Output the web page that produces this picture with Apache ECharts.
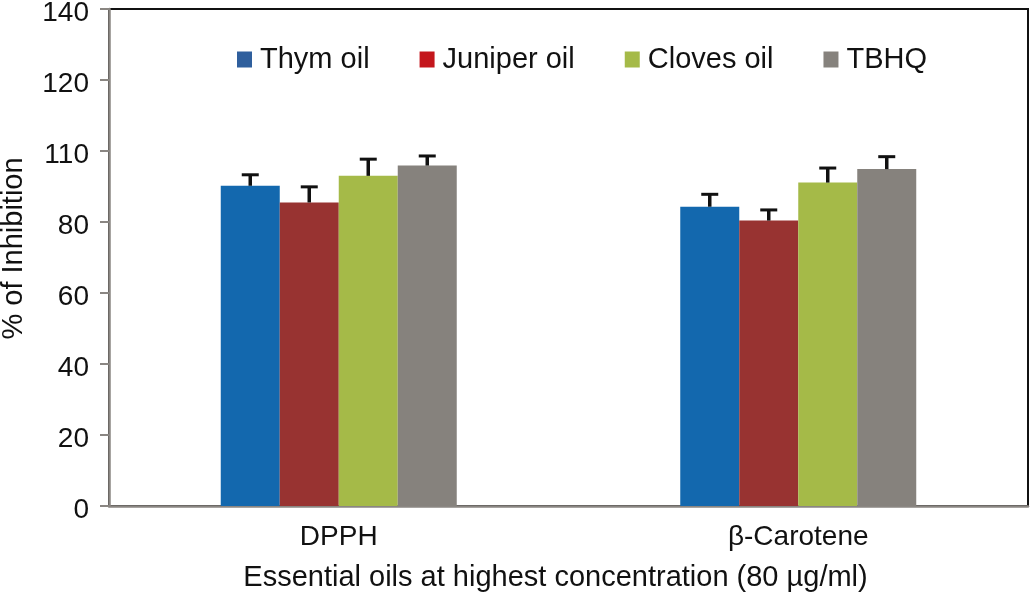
<!DOCTYPE html>
<html>
<head>
<meta charset="utf-8">
<script src="https://cdn.jsdelivr.net/npm/echarts@6/dist/echarts.min.js"></script>
<style>
    html, body { margin: 0; padding: 0; background: #fff; }
    #main { width: 1031px; height: 598px; }
</style>
</head>
<body>
<div id="main"></div>
<script>
"use strict";

// data
var categories = ['DPPH', 'β-Carotene'];
var seriesNames = ['Thym oil', 'Juniper oil', 'Cloves oil', 'TBHQ'];
var thymOil = [90.2, 84.3];
var juniperOil = [85.5, 80.4];
var clovesOil = [93.0, 91.1];
var tbhq = [95.9, 94.9];
var thymErr = [3.1, 3.5];
var juniperErr = [4.4, 3.0];
var clovesErr = [4.7, 4.1];
var tbhqErr = [2.7, 3.5];
// the original figure labels the 100 tick as "110"
var yTickValues = [0, 20, 40, 60, 80, 100, 120, 140];
var yTickLabels = ['0', '20', '40', '60', '80', '110', '120', '140'];

var barColors = ['#1368ae', '#983331', '#a5ba48', '#86827d'];
var legendColors = ['#2f5f9d', '#c4161c', '#a5ba48', '#86827d'];
var barRatio = 0.1284;

var values = [thymOil, juniperOil, clovesOil, tbhq];
var errors = [thymErr, juniperErr, clovesErr, tbhqErr];

var errData = [];
for (var s = 0; s < values.length; s++) {
    for (var c = 0; c < categories.length; c++) {
        errData.push([c, s, values[s][c], errors[s][c]]);
    }
}

var dom = document.getElementById('main');
var myChart = echarts.init(dom);
var font = 'Liberation Sans, Arial, sans-serif';

var series = [];
for (var i = 0; i < seriesNames.length; i++) {
    series.push({
        name: seriesNames[i],
        type: 'bar',
        barWidth: (barRatio * 100) + '%',
        barGap: '0%',
        itemStyle: { color: barColors[i] },
        data: values[i]
    });
}

// upper error bars, T shaped
series.push({
    type: 'custom',
    silent: true,
    z: 5,
    renderItem: function (params, api) {
        var cat = api.value(0);
        var idx = api.value(1);
        var v = api.value(2);
        var e = api.value(3);
        var band = api.size([1, 0])[0];
        var w = band * barRatio;
        var base = api.coord([cat, v]);
        var top = api.coord([cat, v + e]);
        var x = base[0] + (idx - 1.5) * w;
        var half = 8.5;
        return {
            type: 'group',
            children: [
                { type: 'line', shape: { x1: x, y1: base[1], x2: x, y2: top[1] }, style: { stroke: '#111', lineWidth: 3.5 } },
                { type: 'line', shape: { x1: x - half, y1: top[1], x2: x + half, y2: top[1] }, style: { stroke: '#111', lineWidth: 3 } }
            ]
        };
    },
    data: errData
});

var legendData = [];
for (var j = 0; j < seriesNames.length; j++) {
    legendData.push({ name: seriesNames[j], itemStyle: { color: legendColors[j] } });
}

var option = {
    animation: false,
    backgroundColor: '#fff',
    textStyle: { fontFamily: font },
    legend: {
        data: legendData,
        left: 232,
        top: 40,
        icon: 'rect',
        itemWidth: 15,
        itemHeight: 16,
        itemGap: 50,
        textStyle: { fontSize: 29, color: '#111', fontFamily: font, padding: [0, 0, 0, 3] }
    },
    grid: {
        left: 109,
        right: 3,
        top: 9,
        bottom: 92,
        outerBoundsMode: 'none',
        show: true,
        borderColor: '#111',
        borderWidth: 2
    },
    xAxis: {
        type: 'category',
        data: categories,
        name: 'Essential oils at highest concentration (80 µg/ml)',
        nameLocation: 'middle',
        nameGap: 57,
        nameTextStyle: { fontSize: 29, color: '#111', fontFamily: font, padding: [0, 26, 0, 0] },
        axisLine: { lineStyle: { color: '#8a8682', width: 2.5 } },
        axisTick: { show: false },
        axisLabel: { fontSize: 28, color: '#111', margin: 17, fontFamily: font }
    },
    yAxis: {
        type: 'value',
        min: 0,
        max: 140,
        interval: 20,
        name: '% of Inhibition',
        nameLocation: 'middle',
        nameGap: 81,
        nameTextStyle: { fontSize: 29, color: '#111', fontFamily: font, padding: [0, 0, 0, 18] },
        splitLine: { show: false },
        axisLine: { show: true, lineStyle: { color: '#8a8682', width: 2.5 } },
        axisTick: { show: true, length: 9, lineStyle: { color: '#8a8682', width: 2 } },
        axisLabel: {
            color: '#111',
            margin: 20,
            fontFamily: font,
            rich: {
                t: { fontSize: 28, color: '#111', fontFamily: font, padding: [9, 0, 0, 0] }
            },
            formatter: function (val) {
                var k = yTickValues.indexOf(val);
                return k >= 0 ? '{t|' + yTickLabels[k] + '}' : '';
            }
        }
    },
    series: series
};

myChart.setOption(option);
</script>
</body>
</html>
